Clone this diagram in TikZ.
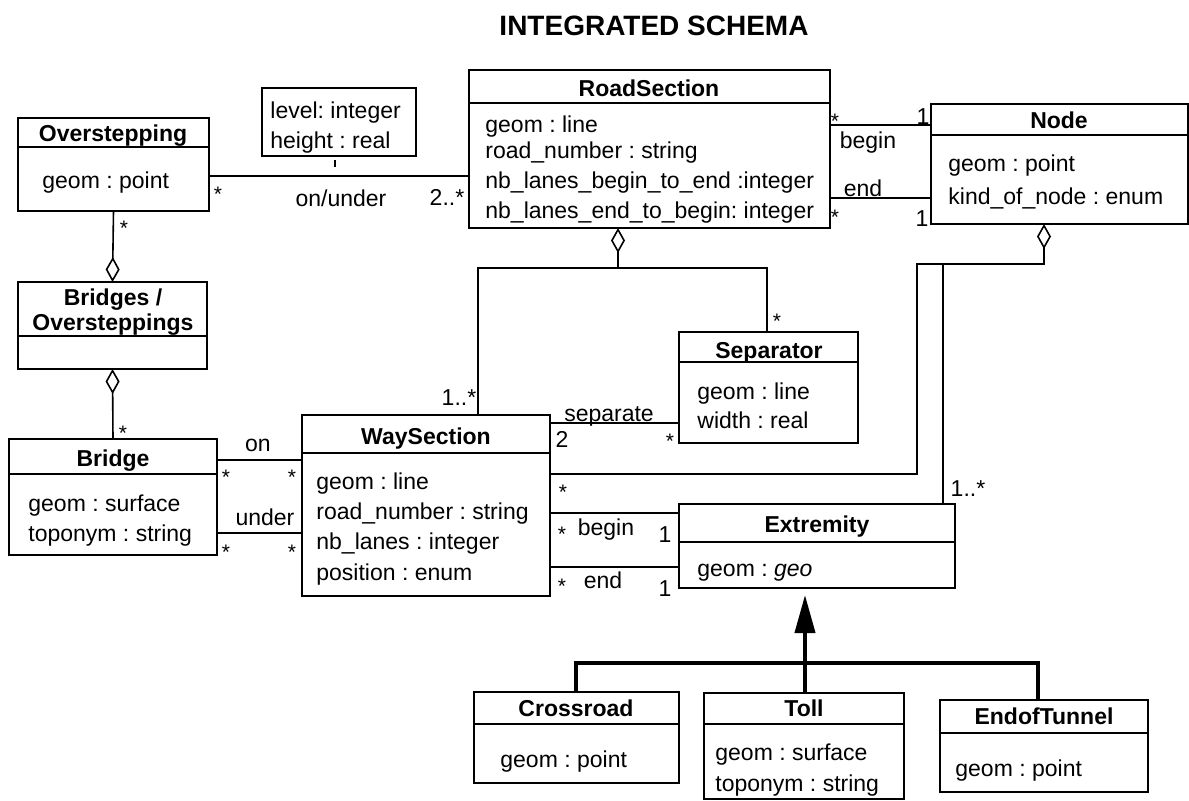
\documentclass[tikz,border=0pt]{standalone}
\usepackage{fontspec}
\setmainfont{Liberation Sans}
\usetikzlibrary{fit,arrows.meta}
\frenchspacing

% one unit = one pixel of the drawing grid, y axis pointing down
\tikzset{
  box/.style={draw, line width=0.8pt, inner sep=0pt, outer sep=0pt},
  rule/.style={line width=0.8pt},
  ctitle/.style={font=\bfseries\fontsize{11.5}{13}\selectfont, inner sep=0pt, text height=8.2pt, text depth=0pt},
  attr/.style={font=\fontsize{11.5}{13}\selectfont, inner sep=0pt, anchor=west, text height=8.2pt, text depth=0pt},
  lbl/.style={font=\fontsize{11.5}{13}\selectfont, inner sep=0pt, text height=8.2pt, text depth=0pt},
  star/.style={font=\fontsize{10.5}{12}\selectfont, inner sep=0pt, text height=8pt, text depth=0pt, yshift=-1.5pt},
  assoc/.style={line width=0.8pt},
  agg/.style={line width=0.8pt, -{Diamond[open, length=12.5pt, width=7pt, line width=0.8pt]}},
  gen/.style={line width=2pt},
  genarrow/.style={line width=2pt, -{Triangle[length=19pt, width=10pt]}, shorten >=3.5pt},
}

% class box: name, corners, y of the line under the class name
\newcommand\umlclass[6]{%
  \node[box, fit={(#2,#3) (#4,#5)}] (#1) {};
  \draw[rule] (#1.west |- 0,#6) -- (#1.east |- 0,#6);
}

\begin{document}
\begin{tikzpicture}[x=0.5pt, y=-0.5pt]
\useasboundingbox (0,0) rectangle (1189,800);

\node[font=\bfseries\fontsize{14}{16}\selectfont, inner sep=0pt] (title) at (654,26) {INTEGRATED SCHEMA};

% ---- classes ----
\umlclass{over}{18}{118}{209}{211}{147}
\node[ctitle] (over-t) at (113,133) {Overstepping};
\node[attr] (over-a1) at (42,180) {geom : point};

\node[box, fit={(262,88) (416,156)}] (lvl) {};
\node[attr] (lvl-a1) at (270,110) {level: integer};
\node[attr] (lvl-a2) at (270,140) {height : real};

\umlclass{rs}{469}{70}{830}{228}{103}
\node[ctitle] (rs-t) at (649,88) {RoadSection};
\node[attr] (rs-a1) at (485,124) {geom : line};
\node[attr] (rs-a2) at (485,150) {road\_number : string};
\node[attr] (rs-a3) at (485,180) {nb\_lanes\_begin\_to\_end :integer};
\node[attr] (rs-a4) at (485,210) {nb\_lanes\_end\_to\_begin: integer};

\umlclass{nd}{931}{104}{1188}{224}{135}
\node[ctitle] (nd-t) at (1059,120) {Node};
\node[attr] (nd-a1) at (948,163) {geom : point};
\node[attr] (nd-a2) at (948,196) {kind\_of\_node : enum};

\umlclass{bo}{18}{282}{207}{369}{336}
\node[ctitle] (bo-t1) at (113,297) {Bridges /};
\node[ctitle] (bo-t2) at (113,322) {Oversteppings};

\umlclass{br}{9}{439}{217}{555}{474}
\node[ctitle] (br-t) at (113,458) {Bridge};
\node[attr] (br-a1) at (28,503) {geom : surface};
\node[attr] (br-a2) at (28,533) {toponym : string};

\umlclass{ws}{302}{415}{550}{596}{453}
\node[ctitle] (ws-t) at (426,436) {WaySection};
\node[attr] (ws-a1) at (316,481) {geom : line};
\node[attr] (ws-a2) at (316,511) {road\_number : string};
\node[attr] (ws-a3) at (316,541) {nb\_lanes : integer};
\node[attr] (ws-a4) at (316,572) {position : enum};

\umlclass{sep}{679}{332}{858}{443}{362}
\node[ctitle] (sep-t) at (769,350) {Separator};
\node[attr] (sep-a1) at (697,391) {geom : line};
\node[attr] (sep-a2) at (697,420) {width : real};

\umlclass{ext}{679}{504}{955}{588}{542}
\node[ctitle] (ext-t) at (817,524) {Extremity};
\node[attr] (ext-a1) at (697,568) {geom : \textit{geo}};

\umlclass{cr}{474}{692}{679}{783}{724}
\node[ctitle] (cr-t) at (576,708) {Crossroad};
\node[attr] (cr-a1) at (500,759) {geom : point};

\umlclass{toll}{704}{693}{904}{799}{724}
\node[ctitle] (toll-t) at (804,708) {Toll};
\node[attr] (toll-a1) at (715,752) {geom : surface};
\node[attr] (toll-a2) at (715,783) {toponym : string};

\umlclass{et}{940}{700}{1148}{792}{733}
\node[ctitle] (et-t) at (1044,716) {EndofTunnel};
\node[attr] (et-a1) at (955,768) {geom : point};

% ---- associations ----
\draw[assoc] (over.east |- 0,176) -- (rs.west |- 0,176);
\draw[assoc] (lvl.south -| 335,0) ++(0,4) -- ++(0,7);
\node[star] (m1) at (218,190) {*};
\node[lbl] (m2) at (341,198) {on/under};
\node[lbl] (m3) at (447,197) {2..*};

\draw[agg] (over.south) -- (bo.north);
\node[star] (m4) at (124,224) {*};
\draw[agg] (br.north) -- (bo.south);
\node[star] (m5) at (123,429) {*};

\draw[assoc] (br.east |- 0,460) -- (ws.west |- 0,460);
\node[lbl] (m6) at (258,443) {on};
\node[star] (m7) at (226,473) {*};
\node[star] (m8) at (292,473) {*};
\draw[assoc] (br.east |- 0,533) -- (ws.west |- 0,533);
\node[lbl] (m9) at (265,517) {under};
\node[star] (m10) at (226,548) {*};
\node[star] (m11) at (292,548) {*};

\draw[assoc] (rs.east |- 0,125) -- (nd.west |- 0,125);
\node[star] (m12) at (835,117) {*};
\node[lbl] (m13) at (923,116) {1};
\node[lbl] (m14) at (868,140) {begin};
\draw[assoc] (rs.east |- 0,198) -- (nd.west |- 0,198);
\node[lbl] (m15) at (863,188) {end};
\node[star] (m16) at (835,213) {*};
\node[lbl] (m17) at (922,218) {1};

% RoadSection aggregates way sections and separators
\coordinate (rsj) at (618,268);
\draw[agg] (ws.north -| 478,0) |- (rsj) -- (rs.south -| 618,0);
\draw[assoc] (sep.north -| 767,0) |- (rsj);
\node[lbl] (m18) at (459,397) {1..*};
\node[star] (m19) at (777,317) {*};

\draw[assoc] (ws.east |- 0,423) -- (sep.west |- 0,423);
\node[lbl] (m20) at (609,413) {separate};
\node[lbl] (m21) at (562,439) {2};
\node[star] (m22) at (670,437) {*};

% Node aggregates way sections and extremities
\coordinate (ndj) at (1044,264);
\draw[agg] (ws.east |- 0,474) -| (917,264) -- (ndj) -- (nd.south -| 1044,0);
\draw[assoc] (ext.north -| 943,0) -- (943,264);
\node[star] (m23) at (563,488) {*};
\node[lbl] (m24) at (968,488) {1..*};

\draw[assoc] (ws.east |- 0,513) -- (ext.west |- 0,513);
\node[star] (m25) at (562,530) {*};
\node[lbl] (m26) at (606,527) {begin};
\node[lbl] (m27) at (665,534) {1};
\draw[assoc] (ws.east |- 0,567) -- (ext.west |- 0,567);
\node[star] (m28) at (562,582) {*};
\node[lbl] (m29) at (603,580) {end};
\node[lbl] (m30) at (665,588) {1};

% ---- generalisation of Extremity ----
\draw[genarrow] (toll.north -| 805,0) -- (ext.south -| 805,0);
\draw[gen] (cr.north -| 576,0) |- (1038,663) -- (et.north -| 1038,0);

\end{tikzpicture}
\end{document}
